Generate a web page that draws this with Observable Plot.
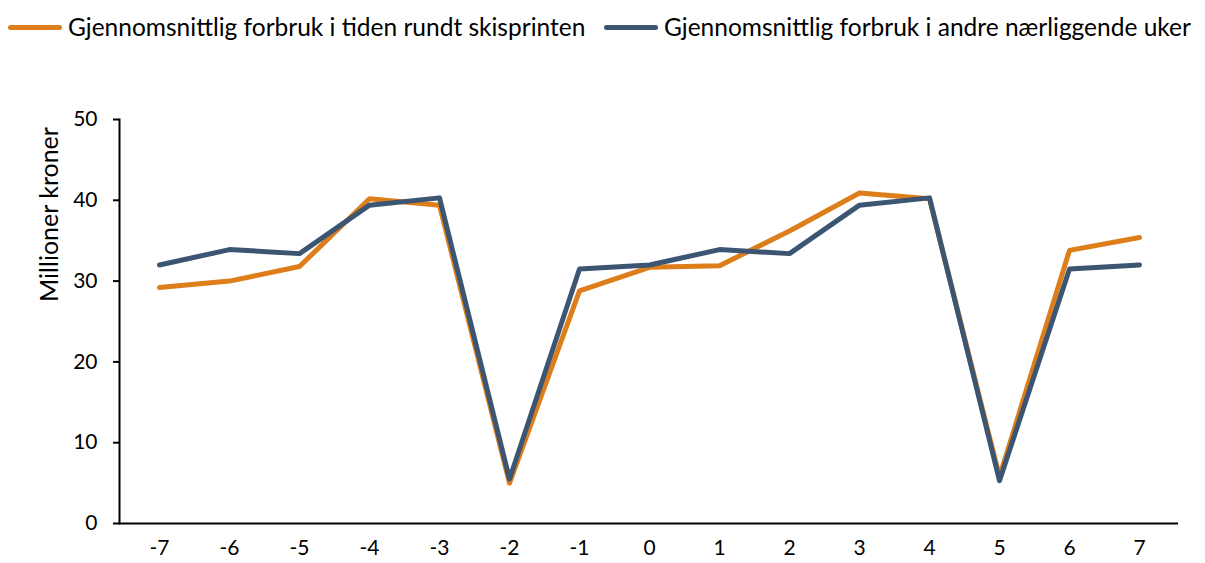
<!DOCTYPE html>
<html><head><meta charset="utf-8">
<script src="https://cdn.jsdelivr.net/npm/d3@7"></script>
<script src="https://cdn.jsdelivr.net/npm/@observablehq/plot@0.6"></script>
<style>
body{margin:0;background:#fff;font-family:Lato,"Open Sans",sans-serif;}
#legend{position:relative;height:55px;width:1205px;}
.item{position:absolute;top:11px;display:flex;align-items:center;font-size:24.5px;color:#000;white-space:nowrap;line-height:32px;}
.sw{width:54px;height:5px;border-radius:3px;margin-right:6px;}
</style></head><body>
<div id="legend"></div>
<div id="chart"></div>
<script>
const weeks = [-7,-6,-5,-4,-3,-2,-1,0,1,2,3,4,5,6,7];
const seriesNames = ["Gjennomsnittlig forbruk i tiden rundt skisprinten","Gjennomsnittlig forbruk i andre nærliggende uker"];
const colors = ["#DE7E1A","#3B5573"];
const sprintValues = [29.2,30.0,31.8,40.2,39.4,5.0,28.8,31.7,31.9,36.2,40.9,40.2,5.8,33.8,35.4];
const otherValues  = [32.0,33.9,33.4,39.4,40.3,5.5,31.5,32.0,33.9,33.4,39.4,40.3,5.3,31.5,32.0];
const yTicks = [0,10,20,30,40,50];
const yLabel = "Millioner kroner";

const data = [];
weeks.forEach((w,i)=>{
  data.push({week:w, value:sprintValues[i], series:seriesNames[0]});
  data.push({week:w, value:otherValues[i], series:seriesNames[1]});
});

const legend = document.getElementById("legend");
const lefts = [8, 604];
seriesNames.forEach((n,i)=>{
  const d = document.createElement("div");
  d.className="item"; d.style.left=lefts[i]+"px";
  d.innerHTML = `<span class="sw" style="background:${colors[i]}"></span><span>${n}</span>`;
  legend.appendChild(d);
});

const chart = Plot.plot({
  width:1205, height:508,
  marginTop:64, marginBottom:40, marginLeft:119, marginRight:27,
  style:{fontFamily:"Lato, 'Open Sans', sans-serif", fontSize:"21px", color:"#000", background:"#fff"},
  x:{type:"point", domain:weeks, padding:0.5, label:null},
  y:{domain:[0,50], ticks:yTicks, label:null},
  color:{domain:seriesNames, range:colors},
  marks:[
    Plot.axisX({tickSize:0, tickPadding:17, fontSize:21}),
    Plot.axisY({ticks:yTicks, tickSize:6, tickPadding:16, strokeWidth:2, fontSize:21, label:null}),
    Plot.text([yLabel], {frameAnchor:"left", textAnchor:"middle", dx:-70, dy:-107, rotate:-90, fontSize:25}),
    Plot.frame({anchor:"left", strokeWidth:2}),
    Plot.ruleY([0], {strokeWidth:2}),
    Plot.line(data, {x:"week", y:"value", z:"series", stroke:"series", strokeWidth:5, strokeLinejoin:"round", strokeLinecap:"round"})
  ]
});
document.getElementById("chart").appendChild(chart);
</script>
</body></html>
